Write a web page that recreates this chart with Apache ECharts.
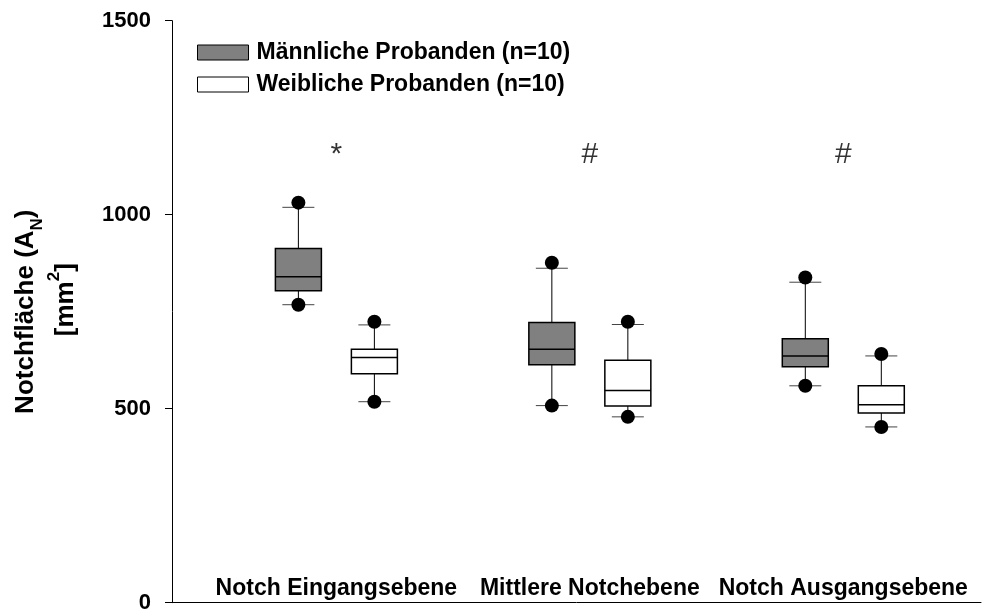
<!DOCTYPE html>
<html>
<head>
<meta charset="utf-8">
<script src="https://cdn.jsdelivr.net/npm/echarts@6/dist/echarts.min.js"></script>
<style>
  html, body { margin: 0; padding: 0; background: #fff; }
  #chart { width: 982px; height: 614px; }
</style>
</head>
<body>
<div id="chart"></div>
<script>
const categories = ['Notch Eingangsebene', 'Mittlere Notchebene', 'Notch Ausgangsebene']
const groupPos = [1, 2, 3]
const maleName = 'Männliche Probanden (n=10)'
const femaleName = 'Weibliche Probanden (n=10)'
// [whisker low, Q1, median, Q3, whisker high]
const maleBox = [
  [768, 804, 840, 913, 1019],
  [508, 613, 653, 722, 862],
  [559, 608, 636, 680, 826]
]
const femaleBox = [
  [518, 590, 632, 653, 716],
  [479, 507, 547, 625, 717],
  [453, 489, 510, 559, 636]
]
// [5. Perzentil, 95. Perzentil]
const maleDots = [[768, 1031], [508, 876], [559, 838]]
const femaleDots = [[518, 724], [479, 724], [453, 641]]
// Signifikanz
const markers = ['*', '#', '#']
const markerY = [1155, 1155, 1155]

const font = 'Liberation Sans, Arial, sans-serif'

function buildData(box, dots) {
  return box.map((b, i) => [groupPos[i], ...b, ...dots[i]])
}

function boxRenderer(offset, fill) {
  return function (params, api) {
    const x = api.value(0)
    const pt = v => {
      const p = api.coord([x, v])
      return [p[0] + offset, p[1]]
    }
    const lo = pt(api.value(1))
    const q1 = pt(api.value(2))
    const med = pt(api.value(3))
    const q3 = pt(api.value(4))
    const hi = pt(api.value(5))
    const dLo = pt(api.value(6))
    const dHi = pt(api.value(7))
    const cx = lo[0]
    const hw = 23 // halbe Boxbreite
    const cw = 16 // halbe Whisker-Kappe
    const line = { stroke: '#000', lineWidth: 1 }
    return {
      type: 'group',
      children: [
        { type: 'line', shape: { x1: cx, y1: hi[1], x2: cx, y2: q3[1] }, style: line },
        { type: 'line', shape: { x1: cx, y1: q1[1], x2: cx, y2: lo[1] }, style: line },
        { type: 'line', shape: { x1: cx - cw, y1: hi[1], x2: cx + cw, y2: hi[1] }, style: { stroke: '#444', lineWidth: 1 } },
        { type: 'line', shape: { x1: cx - cw, y1: lo[1], x2: cx + cw, y2: lo[1] }, style: { stroke: '#444', lineWidth: 1 } },
        { type: 'rect', shape: { x: cx - hw, y: q3[1], width: hw * 2, height: q1[1] - q3[1] }, style: { fill: fill, stroke: '#000', lineWidth: 1.5 } },
        { type: 'line', shape: { x1: cx - hw, y1: med[1], x2: cx + hw, y2: med[1] }, style: { stroke: '#000', lineWidth: 1.5 } },
        { type: 'circle', shape: { cx: cx, cy: dLo[1], r: 7 }, style: { fill: '#000' } },
        { type: 'circle', shape: { cx: cx, cy: dHi[1], r: 7 }, style: { fill: '#000' } }
      ]
    }
  }
}

const chart = echarts.init(document.getElementById('chart'))
chart.setOption({
  animation: false,
  backgroundColor: '#fff',
  grid: { left: 172, right: 1, top: 20.7, bottom: 11.3, outerBoundsMode: 'none' },
  legend: {
    orient: 'vertical',
    left: 192,
    top: 36,
    itemWidth: 51,
    itemHeight: 15,
    itemGap: 9,
    selectedMode: false,
    textStyle: { fontSize: 23, fontWeight: 'bold', color: '#000', fontFamily: font, padding: [0, 0, 0, 3] },
    data: [
      { name: maleName, icon: 'rect', itemStyle: { color: '#808080', borderColor: '#000', borderWidth: 1 } },
      { name: femaleName, icon: 'rect', itemStyle: { color: '#fff', borderColor: '#000', borderWidth: 1 } }
    ]
  },
  xAxis: {
    type: 'value',
    min: 0.3514,
    max: 3.5433,
    splitLine: { show: false },
    axisTick: { show: false },
    axisLine: { show: true, onZero: false, lineStyle: { color: '#000', width: 1 } },
    axisLabel: {
      inside: true,
      margin: 3,
      fontSize: 23,
      fontWeight: 'bold',
      color: '#000',
      fontFamily: font,
      formatter: v => {
        const r = Math.round(v)
        if (Math.abs(v - r) > 1e-6) return ''
        const i = groupPos.indexOf(r)
        return i >= 0 ? categories[i] : ''
      }
    }
  },
  yAxis: {
    type: 'value',
    min: 0,
    max: 1500,
    interval: 500,
    splitLine: { show: false },
    axisLine: { show: true, lineStyle: { color: '#000', width: 1 } },
    axisTick: { show: true, length: 7, lineStyle: { color: '#000' } },
    axisLabel: { margin: 21, fontSize: 22, fontWeight: 'bold', color: '#000', fontFamily: font, formatter: v => String(v) },
    name: '{t|Notchfläche (A}{sub|N}{t|)}\n{t2|[mm}{sup|2}{t|]}',
    nameLocation: 'middle',
    nameRotate: 90,
    nameGap: 86,
    nameTextStyle: {
      lineHeight: 40,
      rich: {
        t: { fontSize: 26, fontWeight: 'bold', color: '#000', fontFamily: font, lineHeight: 40 },
        t2: { fontSize: 26, fontWeight: 'bold', color: '#000', fontFamily: font, lineHeight: 40, padding: [0, 0, 0, 24] },
        sub: { fontSize: 17, fontWeight: 'bold', color: '#000', fontFamily: font, verticalAlign: 'bottom', lineHeight: 28 },
        sup: { fontSize: 17, fontWeight: 'bold', color: '#000', fontFamily: font, verticalAlign: 'top', lineHeight: 28 }
      }
    }
  },
  series: [
    {
      name: maleName,
      type: 'custom',
      itemStyle: { color: '#808080', borderColor: '#000', borderWidth: 1 },
      encode: { x: 0, y: [1, 2, 3, 4, 5, 6, 7] },
      renderItem: boxRenderer(-38, '#808080'),
      data: buildData(maleBox, maleDots)
    },
    {
      name: femaleName,
      type: 'custom',
      itemStyle: { color: '#fff', borderColor: '#000', borderWidth: 1 },
      encode: { x: 0, y: [1, 2, 3, 4, 5, 6, 7] },
      renderItem: boxRenderer(38, '#fff'),
      data: buildData(femaleBox, femaleDots)
    },
    {
      name: 'Signifikanz',
      type: 'scatter',
      symbolSize: 1,
      itemStyle: { color: 'rgba(0,0,0,0)' },
      label: {
        show: true,
        position: 'inside',
        fontSize: 30,
        color: '#000',
        fontFamily: font,
        formatter: p => markers[p.dataIndex]
      },
      data: groupPos.map((g, i) => [g, markerY[i]])
    }
  ]
})
</script>
</body>
</html>
